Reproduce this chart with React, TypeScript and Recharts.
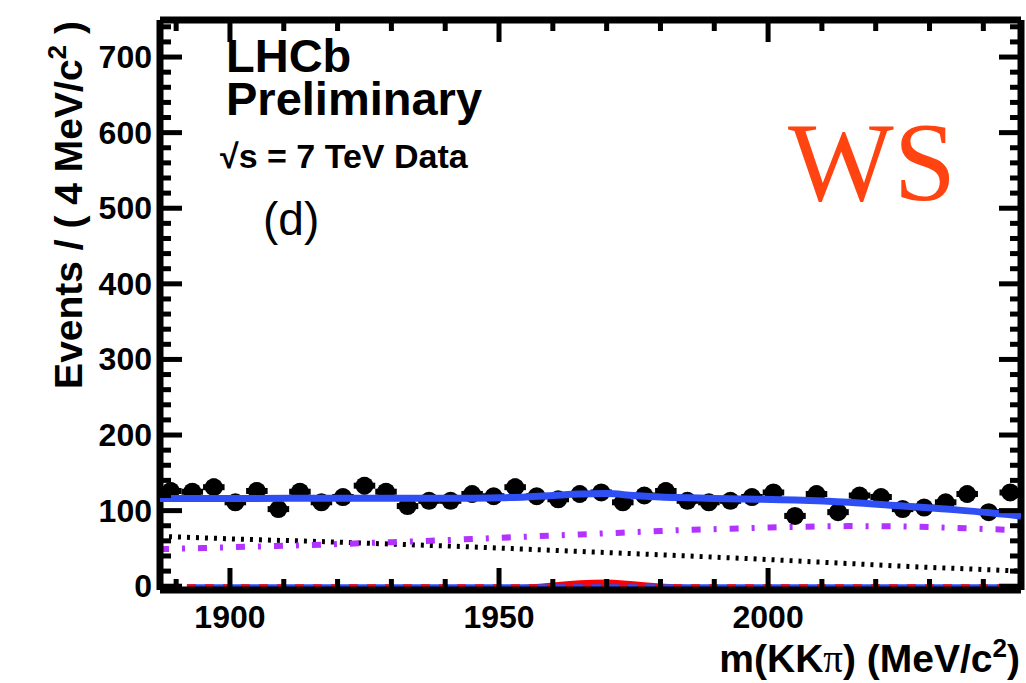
import React from "react";
import { ComposedChart, XAxis, YAxis, Line, Area, Scatter, ErrorBar } from "recharts";

// m(KKpi) bins, 4 MeV wide
const binCentres = [
  1889, 1893, 1897, 1901, 1905, 1909, 1913, 1917, 1921, 1925,
  1929, 1933, 1937, 1941, 1945, 1949, 1953, 1957, 1961, 1965,
  1969, 1973, 1977, 1981, 1985, 1989, 1993, 1997, 2001, 2005,
  2009, 2013, 2017, 2021, 2025, 2029, 2033, 2037, 2041, 2045,
];
const counts = [
  126, 125, 131, 111, 126, 102, 125, 111, 118, 133,
  125, 106, 113, 113, 122, 119, 131, 119, 115, 122,
  124, 111, 120, 126, 113, 111, 113, 118, 124, 93,
  122, 98, 120, 118, 102, 104, 111, 122, 98, 124,
];

// fit curves
const curveX = [1887, 1895, 1905, 1915, 1925, 1935, 1945, 1950, 1955, 1960, 1965, 1970, 1975, 1980, 1985, 1990, 1995, 2005, 2015, 2025, 2035, 2047];
const totalFit = [116, 116, 116, 116.5, 116.5, 116.5, 116.5, 117, 118, 120, 122, 122.5, 120, 118, 117, 116, 115.5, 114, 111, 106, 101, 93];
const combBkg = [49, 50.5, 52.5, 54.5, 57, 59.5, 62.5, 64, 65.5, 67, 68.5, 70, 71.5, 73, 74.5, 75.5, 76.5, 78.5, 79.5, 79, 77, 74];
const partBkg = [66, 64, 61.5, 59.5, 57, 54.5, 52, 50.5, 49, 47.5, 46, 44.5, 43, 41.5, 40, 38.5, 37, 33.5, 30, 26.5, 23.5, 20];
const signalDs = [0, 0, 0, 0, 0, 0, 0, 0.5, 2, 5, 8, 9, 6.5, 3.5, 1.5, 0.5, 0, 0, 0, 0, 0, 0];

const zeroX = [1892, 2043];
const zeroY = [0, 0];

const xMajor = [1900, 1950, 2000];
const xMinor = [1890, 1910, 1920, 1930, 1940, 1960, 1970, 1980, 1990, 2010, 2020, 2030, 2040];
const yMajor = [0, 100, 200, 300, 400, 500, 600, 700];
const yMinor = [20, 40, 60, 80, 120, 140, 160, 180, 220, 240, 260, 280, 320, 340, 360, 380, 420, 440, 460, 480, 520, 540, 560, 580, 620, 640, 660, 680, 720, 740];

const X_DOMAIN = [1887, 2047];
const Y_DOMAIN = [-5, 749];

const xTicks = [...xMajor, ...xMinor];
const yTicks = [...yMajor, ...yMinor];

const points = binCentres.map((x, i) => ({ x, y: counts[i], ex: 2, ey: Math.sqrt(counts[i]) }));
const curves = curveX.map((x, i) => ({
  x,
  total: totalFit[i],
  comb: combBkg[i],
  part: partBkg[i],
  sig: signalDs[i],
}));
const zeroLine = zeroX.map((x, i) => ({ x, v: zeroY[i] }));

const FONT = "'Liberation Sans', Arial, Helvetica, sans-serif";
const MAJ = 22;
const MIN = 11;
const TW = 5; // tick thickness

// layout: chart 1026 wide, right axis 5 px, top margin 15 + top axis 5 px
const CHART_W = 1026;
const RIGHT_AXIS_W = 5;
const TOP_MARGIN = 15;
const TOP_AXIS_H = 5;
const RIGHT_EDGE = CHART_W - RIGHT_AXIS_W;
const TOP_EDGE = TOP_MARGIN + TOP_AXIS_H;

// bottom axis: label + inward ticks on the bottom and top edges
function BottomTick({ x, y, payload }: any) {
  const xx = Number(x);
  const yy = Number(y);
  const major = xMajor.includes(payload.value);
  const len = major ? MAJ : MIN;
  const bottom = yy - 10; // tickMargin 10
  return (
    <g>
      <rect x={xx - TW / 2} y={bottom - len} width={TW} height={len} fill="#000" />
      <rect x={xx - TW / 2} y={TOP_EDGE} width={TW} height={len} fill="#000" />
      {major && (
        <text x={xx} y={yy + 28} textAnchor="middle" fontFamily={FONT} fontWeight="bold" fontSize={32} fill="#000">
          {payload.value}
        </text>
      )}
    </g>
  );
}

// left axis: label + inward ticks on the left and right edges
function LeftTick({ x, y, payload }: any) {
  const xx = Number(x);
  const yy = Number(y);
  const major = yMajor.includes(payload.value);
  const len = major ? MAJ : MIN;
  const left = xx + 8; // tickMargin 8
  return (
    <g>
      <rect x={left} y={yy - TW / 2} width={len} height={TW} fill="#000" />
      <rect x={RIGHT_EDGE - len} y={yy - TW / 2} width={len} height={TW} fill="#000" />
      {major && (
        <text x={xx} y={yy + 11} textAnchor="end" fontFamily={FONT} fontWeight="bold" fontSize={32} fill="#000">
          {payload.value}
        </text>
      )}
    </g>
  );
}

function DataPoint({ cx, cy }: any) {
  return <circle cx={cx} cy={cy} r={9} fill="#000" />;
}

const YTitle = () => (
  <text transform="translate(82 205) rotate(-90)" textAnchor="middle" fontFamily={FONT} fontWeight="bold" fontSize={39} fill="#000">
    Events / ( 4 MeV/c<tspan dy={-16} fontSize={26}>2</tspan>
    <tspan dy={16}> )</tspan>
  </text>
);

const XTitle = () => (
  <text x={1020} y={672} textAnchor="end" fontFamily={FONT} fontWeight="bold" fontSize={39} fill="#000">
    m(KK<tspan fontFamily="'Liberation Serif', serif" fontWeight="normal">π</tspan>) (MeV/c
    <tspan dy={-15} fontSize={26}>2</tspan>
    <tspan dy={15}>)</tspan>
  </text>
);

const frame = { stroke: "#000", strokeWidth: 7 };
const txt: React.CSSProperties = { position: "absolute", fontFamily: FONT, color: "#000", whiteSpace: "nowrap", lineHeight: 1 };

export default function App() {
  return (
    <div style={{ position: "absolute", left: 0, top: 0, width: CHART_W, height: 683, background: "#fff" }}>
      <ComposedChart
        width={CHART_W}
        height={683}
        data={curves}
        margin={{ top: TOP_MARGIN, right: 0, bottom: 33, left: 90 }}
      >
        <XAxis
          xAxisId="main"
          type="number"
          dataKey="x"
          domain={X_DOMAIN}
          allowDataOverflow
          ticks={xTicks}
          interval={0}
          tickLine={false}
          tickSize={0}
          tickMargin={10}
          height={60}
          tick={<BottomTick />}
          axisLine={frame}
          label={{ content: () => <XTitle /> }}
        />
        <XAxis xAxisId="top" orientation="top" type="number" domain={X_DOMAIN} allowDataOverflow tick={false} tickLine={false} height={TOP_AXIS_H} axisLine={frame} />
        <YAxis
          yAxisId="main"
          type="number"
          dataKey="y"
          domain={Y_DOMAIN}
          allowDataOverflow
          ticks={yTicks}
          interval={0}
          tickLine={false}
          tickSize={0}
          tickMargin={8}
          width={70}
          tick={<LeftTick />}
          axisLine={frame}
          label={{ content: () => <YTitle /> }}
        />
        <YAxis yAxisId="right" orientation="right" type="number" domain={Y_DOMAIN} allowDataOverflow tick={false} tickLine={false} width={RIGHT_AXIS_W} axisLine={frame} />

        <Area xAxisId="main" yAxisId="main" type="monotone" dataKey="sig" stroke="none" fill="#ff0000" fillOpacity={1} isAnimationActive={false} />
        <Line xAxisId="main" yAxisId="main" data={zeroLine} dataKey="v" stroke="#2a4cff" strokeWidth={4} dot={false} isAnimationActive={false} />
        <Line xAxisId="main" yAxisId="main" data={zeroLine} dataKey="v" stroke="#ff0000" strokeWidth={4} strokeDasharray="9 9" dot={false} isAnimationActive={false} />
        <Line xAxisId="main" yAxisId="main" type="monotone" dataKey="part" stroke="#000" strokeWidth={5} strokeDasharray="3 6" dot={false} isAnimationActive={false} />
        <Line xAxisId="main" yAxisId="main" type="monotone" dataKey="comb" stroke="#b233ff" strokeWidth={6} strokeDasharray="9 13 3 13" dot={false} isAnimationActive={false} />
        <Scatter xAxisId="main" yAxisId="main" data={points} dataKey="y" shape={<DataPoint />} isAnimationActive={false}>
          <ErrorBar dataKey="ey" direction="y" width={0} stroke="#000" strokeWidth={6} isAnimationActive={false} />
          <ErrorBar dataKey="ex" direction="x" width={0} stroke="#000" strokeWidth={6} isAnimationActive={false} />
        </Scatter>
        <Line xAxisId="main" yAxisId="main" type="monotone" dataKey="total" stroke="#2f4ff5" strokeWidth={7} dot={false} isAnimationActive={false} zIndex={700} />
      </ComposedChart>

      <div style={{ ...txt, left: 226, top: 34, fontSize: 47, lineHeight: "43px", fontWeight: "bold" }}>
        LHCb
        <br />
        Preliminary
      </div>
      <div style={{ ...txt, left: 220, top: 139, fontSize: 34, fontWeight: "bold" }}>√s = 7 TeV Data</div>
      <div style={{ ...txt, left: 263, top: 196, fontSize: 46 }}>(d)</div>
      <div style={{ ...txt, left: 788, top: 106, fontSize: 112, fontFamily: "'Liberation Serif', 'DejaVu Serif', serif", color: "#ff4411" }}>WS</div>
    </div>
  );
}
